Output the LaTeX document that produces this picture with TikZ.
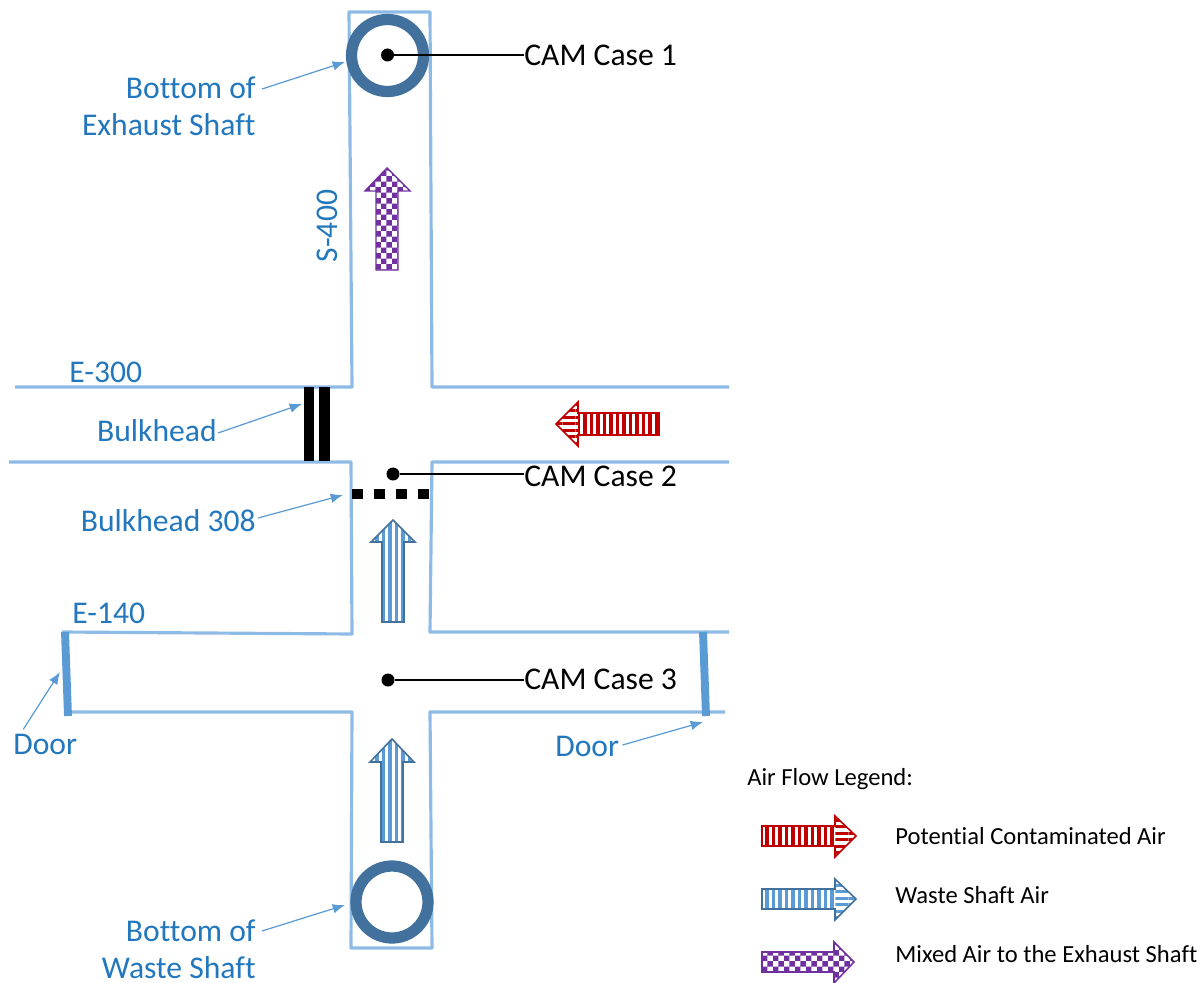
\documentclass[tikz,border=0pt]{standalone}
\usepackage{fontspec}
\setmainfont{Carlito}[Ligatures=NoCommon]
\usetikzlibrary{arrows.meta,patterns,patterns.meta}

\definecolor{wallblue}{HTML}{8DBBE6}
\definecolor{labelblue}{HTML}{2277BD}
\definecolor{pointblue}{HTML}{5B9BD5}
\definecolor{ringblue}{HTML}{41719C}
\definecolor{flowred}{HTML}{C00000}
\definecolor{flowpurple}{HTML}{7030A0}

\pgfdeclarepatternformonly{checks}{\pgfqpoint{0pt}{0pt}}{\pgfqpoint{6.2pt}{6.2pt}}{\pgfqpoint{6.2pt}{6.2pt}}{
	\pgfpathrectangle{\pgfqpoint{0pt}{0pt}}{\pgfqpoint{3.1pt}{3.1pt}}
	\pgfpathrectangle{\pgfqpoint{3.1pt}{3.1pt}}{\pgfqpoint{3.1pt}{3.1pt}}
	\pgfusepath{fill}
}

\tikzset{
	wall/.style={draw=wallblue, line width=1.8pt, line join=round},
	door/.style={draw=pointblue, line width=4.5pt},
	ring/.style={draw=ringblue, line width=6.4pt},
	bulk/.style={draw=black, line width=6pt},
	tag/.style={text=labelblue, font=\fontsize{18}{21}\selectfont, inner sep=0pt},
	camtag/.style={text=black, font=\fontsize{18}{21}\selectfont, inner sep=0pt, anchor=west},
	legendtag/.style={text=black, font=\fontsize{14}{17}\selectfont, inner sep=0pt, anchor=west},
	pointer/.style={draw=pointblue, line width=0.7pt, -{Latex[length=7pt,width=5.5pt]}},
	camdot/.style={circle, fill=black, inner sep=0pt, minimum size=7.4pt},
	camline/.style={draw=black, line width=0.9pt},
	redshaft/.style={pattern={Lines[angle=90,distance=3.7pt,line width=1.9pt]}, pattern color=flowred},
	redhead/.style={pattern={Lines[angle=0,distance=3.7pt,line width=1.7pt]}, pattern color=flowred},
	blueshaft/.style={pattern={Lines[angle=90,distance=3.7pt,line width=1.9pt]}, pattern color=pointblue},
	bluehead/.style={pattern={Lines[angle=0,distance=3.7pt,line width=1.7pt]}, pattern color=pointblue},
	purplefill/.style={pattern=checks, pattern color=flowpurple},
}

\begin{document}
\begin{tikzpicture}[x=0.02cm, y=-0.02cm]
	\useasboundingbox (0,0) rectangle (1203,983);

	% walls
	\draw[wall] (15,387) -- (352,387) -- (349,12) -- (430,12) -- (432,387) -- (729,387);
	\draw[wall] (9,462) -- (351,462) -- (352,634) -- (62,632);
	\draw[wall] (729,462) -- (432,462) -- (430,632) -- (729,632);
	\draw[wall] (68,712) -- (352,712) -- (351,948) -- (432,948) -- (430,712) -- (725,712);

	% doors
	\draw[door] (65,632) -- (68,716);
	\draw[door] (703,632) -- (706,716);

	% bulkheads
	\draw[bulk] (309,387) -- (309,461);
	\draw[bulk] (324.5,387) -- (324.5,461);
	\draw[draw=black, line width=5.7pt, dash pattern=on 6.2pt off 6.3pt] (352,494) -- (430,494);

	% shafts
	\draw[ring] (387.5,55.5) circle (36);
	\draw[ring] (392,902) circle (36);

	% flow arrows
	\draw[draw=flowpurple, line width=0.8pt, purplefill] (387,168) -- (410,191) -- (398,191) -- (398,270) -- (376,270) -- (376,191) -- (365,191) -- cycle;
	\draw[draw=ringblue, line width=0.9pt, blueshaft] (393,520) -- (415,542) -- (404,542) -- (404,622) -- (382,622) -- (382,542) -- (371,542) -- cycle;
	\draw[draw=ringblue, line width=0.9pt, blueshaft] (392,739) -- (414,762) -- (403,762) -- (403,842) -- (381,842) -- (381,762) -- (370,762) -- cycle;

	\fill[redhead] (556,424) -- (578,402) -- (578,446) -- cycle;
	\fill[redshaft] (578,413) rectangle (659,435);
	\draw[draw=flowred, line width=0.9pt] (556,424) -- (578,402) -- (578,413) -- (659,413) -- (659,435) -- (578,435) -- (578,446) -- cycle;

	% labels
	\node[tag, anchor=east] (exhaust1) at (256,88) {Bottom of};
	\node[tag, anchor=east] (exhaust2) at (256,125) {Exhaust Shaft};
	\node[tag, anchor=east] (bulkhead) at (217,431) {Bulkhead};
	\node[tag, anchor=east] (bulkhead308) at (256,521) {Bulkhead 308};
	\node[tag, anchor=east] (waste1) at (256,931) {Bottom of};
	\node[tag, anchor=east] (waste2) at (256,968) {Waste Shaft};
	\node[tag, anchor=west] (doorl) at (13,744) {Door};
	\node[tag, anchor=west] (doorr) at (555,746) {Door};
	\node[tag, anchor=west] (e300) at (69,372) {E-300};
	\node[tag, anchor=west] (e140) at (72,613) {E-140};
	\node[tag, rotate=90] (s400) at (327,226) {S-400};

	% pointers
	\coordinate (pexhaust) at (345,62);
	\coordinate (pbulkhead) at (302,404);
	\coordinate (pbulkhead308) at (343,495);
	\coordinate (pwaste) at (345,905);
	\coordinate (pdoorl) at (60,672);
	\coordinate (pdoorr) at (703,722);
	\draw[pointer] (exhaust1.east) ++(6,1) -- (pexhaust);
	\draw[pointer] (bulkhead.east) ++(1,2) -- (pbulkhead);
	\draw[pointer] (bulkhead308.east) ++(2,-3) -- (pbulkhead308);
	\draw[pointer] (waste1.east) ++(6,0) -- (pwaste);
	\draw[pointer] (doorl.north) ++(-22,-4) -- (pdoorl);
	\draw[pointer] (doorr.east) ++(3,-1) -- (pdoorr);

	% CAM cases
	\node[camdot] (dot1) at (387.5,55) {};
	\node[camdot] (dot2) at (393,474) {};
	\node[camdot] (dot3) at (388,680) {};
	\node[camtag] (cam1) at (524,55) {CAM Case 1};
	\node[camtag] (cam2) at (524,476) {CAM Case 2};
	\node[camtag] (cam3) at (524,679) {CAM Case 3};
	\draw[camline] (dot1) -- (cam1.west);
	\draw[camline] (dot2) -- (cam2.west |- dot2);
	\draw[camline] (dot3) -- (cam3.west |- dot3);

	% legend
	\node[legendtag] (legend) at (747,779) {Air Flow Legend:};
	\node[legendtag] (leg1) at (895,836) {Potential Contaminated Air};
	\node[legendtag] (leg2) at (895,895) {Waste Shaft Air};
	\node[legendtag] (leg3) at (895,954) {Mixed Air to the Exhaust Shaft};

	\fill[redshaft] (762,826) rectangle (835,846);
	\fill[redhead] (835,816) -- (856,836) -- (835,857) -- cycle;
	\draw[draw=flowred, line width=0.9pt] (856,836) -- (835,816) -- (835,826) -- (762,826) -- (762,846) -- (835,846) -- (835,857) -- cycle;

	\fill[blueshaft] (762,889) rectangle (835,909);
	\fill[bluehead] (835,879) -- (856,899) -- (835,920) -- cycle;
	\draw[draw=ringblue, line width=0.9pt] (856,899) -- (835,879) -- (835,889) -- (762,889) -- (762,909) -- (835,909) -- (835,920) -- cycle;

	\draw[draw=flowpurple, line width=0.9pt, purplefill] (854,962) -- (834,942) -- (834,952) -- (762,952) -- (762,972) -- (834,972) -- (834,983) -- cycle;
\end{tikzpicture}
\end{document}
